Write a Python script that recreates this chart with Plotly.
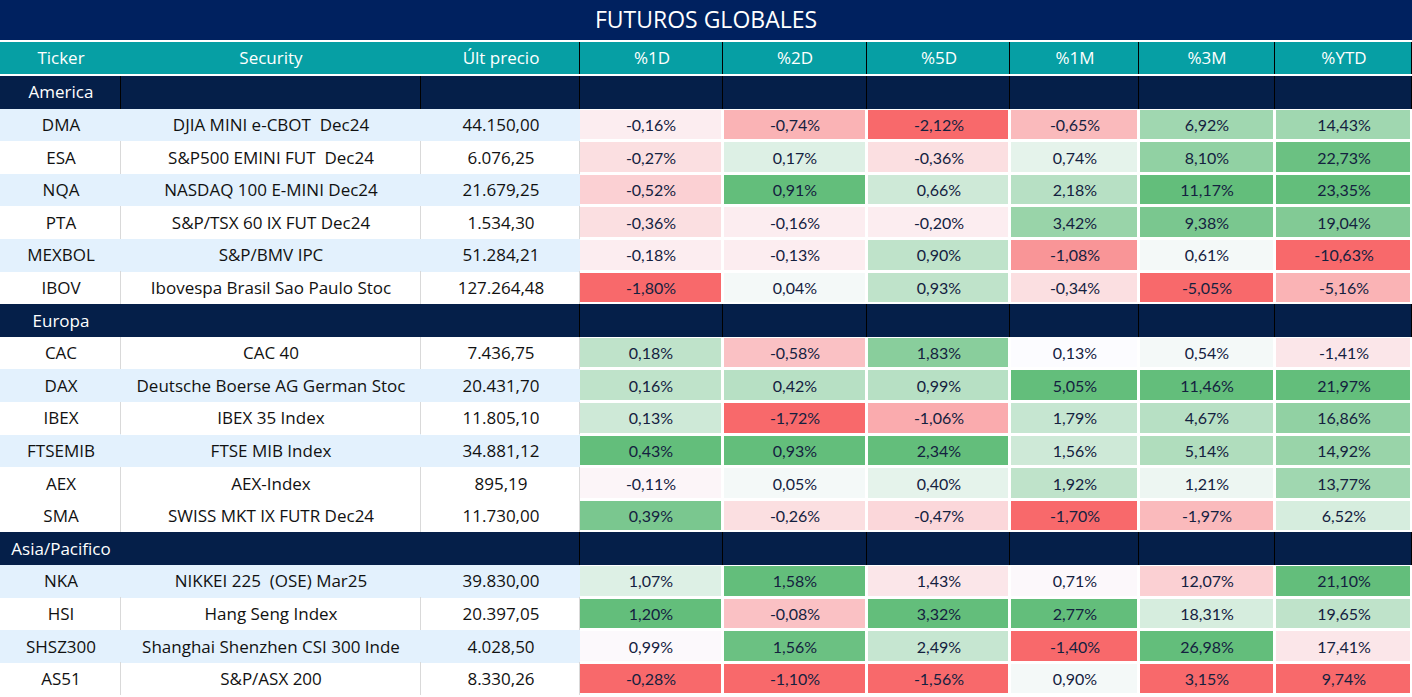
import plotly.graph_objects as go

# ---------------- data ----------------
TITLE = "FUTUROS GLOBALES"
HEADERS = ["Ticker", "Security", "Últ precio", "%1D", "%2D", "%5D", "%1M", "%3M", "%YTD"]
REGIONS = ["America", "Europa", "Asia/Pacifico"]
REGION_OF = ["America"] * 6 + ["Europa"] * 6 + ["Asia/Pacifico"] * 4
TICKERS = ["DMA", "ESA", "NQA", "PTA", "MEXBOL", "IBOV",
           "CAC", "DAX", "IBEX", "FTSEMIB", "AEX", "SMA",
           "NKA", "HSI", "SHSZ300", "AS51"]
SECURITIES = ["DJIA MINI e-CBOT  Dec24", "S&P500 EMINI FUT  Dec24", "NASDAQ 100 E-MINI Dec24",
              "S&P/TSX 60 IX FUT Dec24", "S&P/BMV IPC", "Ibovespa Brasil Sao Paulo Stoc",
              "CAC 40", "Deutsche Boerse AG German Stoc", "IBEX 35 Index", "FTSE MIB Index",
              "AEX-Index", "SWISS MKT IX FUTR Dec24",
              "NIKKEI 225  (OSE) Mar25", "Hang Seng Index", "Shanghai Shenzhen CSI 300 Inde",
              "S&P/ASX 200"]
PRICES = [44150.00, 6076.25, 21679.25, 1534.30, 51284.21, 127264.48,
          7436.75, 20431.70, 11805.10, 34881.12, 895.19, 11730.00,
          39830.00, 20397.05, 4028.50, 8330.26]
CHG_1D = [-0.16, -0.27, -0.52, -0.36, -0.18, -1.80, 0.18, 0.16, 0.13, 0.43, -0.11, 0.39, 1.07, 1.20, 0.99, -0.28]
CHG_2D = [-0.74, 0.17, 0.91, -0.16, -0.13, 0.04, -0.58, 0.42, -1.72, 0.93, 0.05, -0.26, 1.58, -0.08, 1.56, -1.10]
CHG_5D = [-2.12, -0.36, 0.66, -0.20, 0.90, 0.93, 1.83, 0.99, -1.06, 2.34, 0.40, -0.47, 1.43, 3.32, 2.49, -1.56]
CHG_1M = [-0.65, 0.74, 2.18, 3.42, -1.08, -0.34, 0.13, 5.05, 1.79, 1.56, 1.92, -1.70, 0.71, 2.77, -1.40, 0.90]
CHG_3M = [6.92, 8.10, 11.17, 9.38, 0.61, -5.05, 0.54, 11.46, 4.67, 5.14, 1.21, -1.97, 12.07, 18.31, 26.98, 3.15]
CHG_YTD = [14.43, 22.73, 23.35, 19.04, -10.63, -5.16, -1.41, 21.97, 16.86, 14.92, 13.77, 6.52, 21.10, 19.65, 17.41, 9.74]

# ---------------- styles ----------------
# conditional-format intensity per cell (-1 red ... 0 white ... 1 green)
SHADE_1D = [-0.1, -0.2, -0.3, -0.2, -0.1, -1, 0.4, 0.4, 0.3, 1, -0.05, 0.85, 0.2, 1, -0.02, -1]
SHADE_2D = [-0.5, 0.2, 1, -0.1, -0.1, 0.05, -0.4, 0.45, -1, 1, 0.05, -0.2, 1, -0.4, 0.95, -1]
SHADE_5D = [-1, -0.2, 0.3, -0.1, 0.4, 0.4, 0.75, 0.45, -0.55, 1, 0.15, -0.25, -0.15, 1, 0.35, -1]
SHADE_1M = [-0.45, 0.15, 0.45, 0.65, -0.7, -0.2, 0.0, 1, 0.35, 0.3, 0.4, -1, -0.03, 1, -1, 0.05]
SHADE_3M = [0.6, 0.7, 1, 0.85, 0.05, -1, 0.05, 1, 0.45, 0.5, 0.1, -0.45, -0.3, 0.25, 1, -1]
SHADE_YTD = [0.6, 0.95, 1, 0.8, -1, -0.5, -0.15, 1, 0.7, 0.65, 0.6, 0.25, 1, 0.4, -0.15, -1]
ROW_BAND = [1, 0, 1, 0, 1, 0, 0, 1, 0, 1, 0, 0, 1, 0, 1, 0]
SECTION_SPLIT = [1, 0, 0]  # whether the Ticker/Security divider shows in each section row

TITLE_BG = "#00215F"
HEADER_BG = "#069FA4"
SECTION_BG = "#051F49"
BAND_BG = "#E3F1FD"
WHITE = "#FFFFFF"
BLACK = "#000000"
GRID_GRAY = "#D9D9D9"
TEXT_DARK = "#111111"
VALUE_DARK = "#14213F"
RED, MIDWHITE, GREEN = "#F8696B", "#FCFCFF", "#63BE7B"
TEXT_FONT = "Open Sans"
VALUE_FONT = "Lato"
COL_WIDTHS = [121, 300, 159, 143, 144, 143, 129, 136, 137]
TITLE_H, GAP, HEADER_H, ROW_H = 40, 2, 32, 32.6
W, H = 1412, 697


# ---------------- helpers ----------------
def fmt_price(v):
    s = f"{v:,.2f}"
    return s.replace(",", "X").replace(".", ",").replace("X", ".")


def fmt_pct(v):
    return f"{v:.2f}".replace(".", ",") + "%"


def solid(c):
    return [[0, c], [1, c]]


def two(c0, c1):
    return [[0, c0], [0.5, c0], [0.5, c1], [1, c1]]


x_edges = [0]
for w in COL_WIDTHS:
    x_edges.append(x_edges[-1] + w)

rows = []
for region in REGIONS:
    rows.append(("section", region))
    for i, r in enumerate(REGION_OF):
        if r == region:
            rows.append(("data", i))

body_top = TITLE_H + GAP + HEADER_H + GAP
y_body = [body_top + k * ROW_H for k in range(len(rows) + 1)]

changes = [CHG_1D, CHG_2D, CHG_5D, CHG_1M, CHG_3M, CHG_YTD]
shades = [SHADE_1D, SHADE_2D, SHADE_5D, SHADE_1M, SHADE_3M, SHADE_YTD]

z_sec, t_sec, z_sec_base = [], [], []
z_txt, t_txt, z_txt_base = [], [], []
z_val, t_val = [], []
for kind, ref in rows:
    if kind == "section":
        split = SECTION_SPLIT[REGIONS.index(ref)]
        z_sec.append([1] * 9)
        t_sec.append([ref] + [""] * 8)
        z_sec_base.append([split, 1])
        z_txt.append([None] * 3)
        t_txt.append([""] * 3)
        z_txt_base.append([None])
        z_val.append([None] * 6)
        t_val.append([""] * 6)
    else:
        i = ref
        z_sec.append([None] * 9)
        t_sec.append([""] * 9)
        z_sec_base.append([None, None])
        z_txt.append([ROW_BAND[i]] * 3)
        t_txt.append([TICKERS[i], SECURITIES[i], fmt_price(PRICES[i])])
        z_txt_base.append([ROW_BAND[i]])
        z_val.append([s[i] for s in shades])
        t_val.append([fmt_pct(ch[i]) for ch in changes])

common = dict(showscale=False, hoverinfo="skip", texttemplate="%{text}")
base = dict(showscale=False, hoverinfo="skip")

fig = go.Figure()
# title band
fig.add_trace(go.Heatmap(x=[0, W], y=[0, TITLE_H], z=[[1]], text=[[TITLE]], colorscale=solid(TITLE_BG),
                         textfont=dict(family=TEXT_FONT, size=23, color=WHITE), **common))
# header: base (teal under Ticker/Security, black elsewhere) then teal bricks with gaps
hy = [TITLE_H + GAP, TITLE_H + GAP + HEADER_H]
fig.add_trace(go.Heatmap(x=[0, x_edges[2], W], y=hy, z=[[0, 1]], colorscale=two(HEADER_BG, BLACK),
                         zmin=0, zmax=1, **base))
fig.add_trace(go.Heatmap(x=x_edges, y=hy, z=[[1] * 9], text=[HEADERS], colorscale=solid(HEADER_BG), xgap=1,
                         textfont=dict(family=TEXT_FONT, size=17, color=WHITE), **common))
# section rows: base divider colours then navy bricks with gaps
fig.add_trace(go.Heatmap(x=[0, x_edges[2], W], y=y_body, z=z_sec_base, colorscale=two(SECTION_BG, BLACK),
                         zmin=0, zmax=1, **base))
fig.add_trace(go.Heatmap(x=x_edges, y=y_body, z=z_sec, text=t_sec, colorscale=solid(SECTION_BG), xgap=1,
                         textfont=dict(family=TEXT_FONT, size=17, color=WHITE), **common))
# text columns: separator base (gray on white rows, band colour on banded rows), banded fill
fig.add_trace(go.Heatmap(x=[0, x_edges[3]], y=y_body, z=z_txt_base, colorscale=two(GRID_GRAY, BAND_BG),
                         zmin=0, zmax=1, **base))
fig.add_trace(go.Heatmap(x=x_edges[:4], y=y_body, z=z_txt, text=t_txt, xgap=1,
                         colorscale=two(WHITE, BAND_BG), zmin=0, zmax=1,
                         textfont=dict(family=TEXT_FONT, size=17, color=TEXT_DARK), **common))
# value columns: 3-colour conditional scale
fig.add_trace(go.Heatmap(x=[x_edges[3] - 1] + x_edges[4:], y=y_body, z=z_val, text=t_val, xgap=3, ygap=3,
                         colorscale=[[0, RED], [0.5, MIDWHITE], [1, GREEN]], zmin=-1, zmax=1,
                         textfont=dict(family=VALUE_FONT, size=16, color=VALUE_DARK), **common))

fig.update_xaxes(range=[0, W], visible=False, fixedrange=True)
fig.update_yaxes(range=[H, 0], visible=False, fixedrange=True)
fig.update_layout(width=W, height=H, margin=dict(l=0, r=0, t=0, b=0),
                  paper_bgcolor=WHITE, plot_bgcolor=WHITE)
fig.write_html("out.html", config={"displayModeBar": False},
               post_script="document.body.style.margin='0';document.body.style.overflow='hidden';")
